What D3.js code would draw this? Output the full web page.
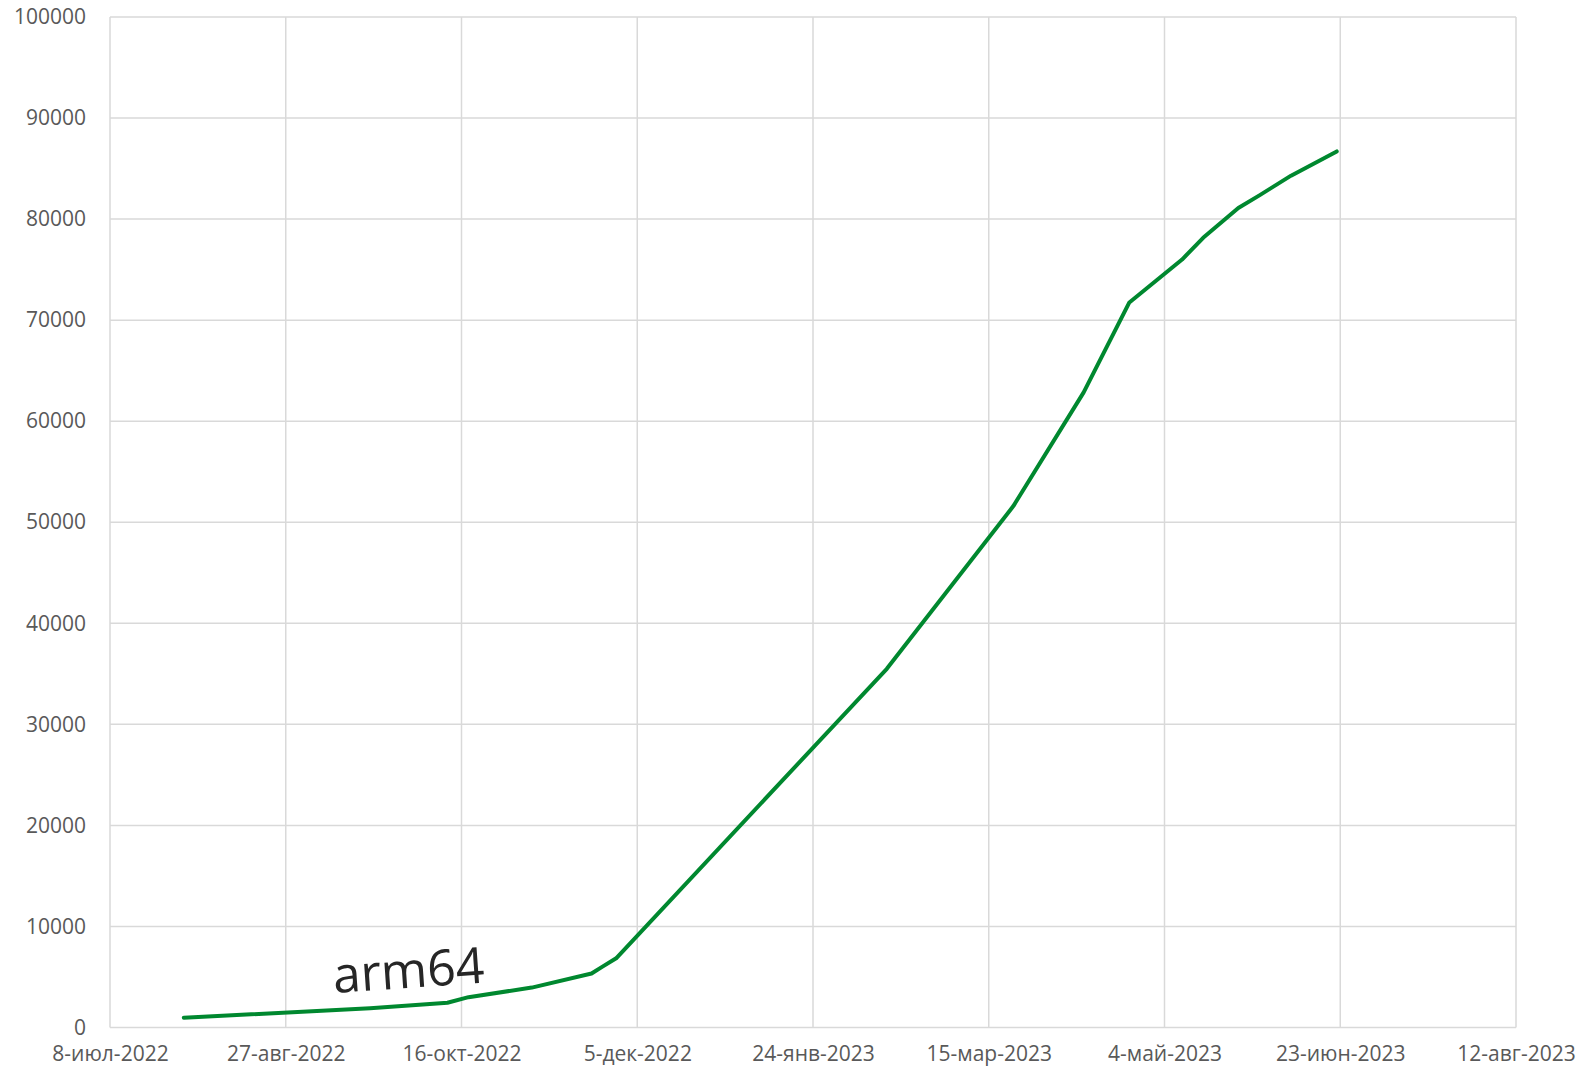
<!DOCTYPE html>
<html><head><meta charset="utf-8">
<script src="https://cdn.jsdelivr.net/npm/d3@7"></script>
<style>
html,body{margin:0;padding:0;background:#fff;}
svg text{font-family:"Open Sans",sans-serif;}
</style></head>
<body>
<svg id="chart" width="1579" height="1071"></svg>
<script>
const dates = ["2022-07-29","2022-09-20","2022-10-12","2022-10-18","2022-11-05","2022-11-22","2022-11-25","2022-11-29","2023-02-14","2023-03-22","2023-04-11","2023-04-24","2023-05-09","2023-05-15","2023-05-25","2023-05-31","2023-06-09","2023-06-22"];
const values = [970,1900,2450,3000,3950,5350,6000,6850,35500,51600,62850,71750,76000,78150,81100,82350,84300,86700];
const xTickDates = ["2022-07-08","2022-08-27","2022-10-16","2022-12-05","2023-01-24","2023-03-15","2023-05-04","2023-06-23","2023-08-12"];
const yTicks = [0,10000,20000,30000,40000,50000,60000,70000,80000,90000,100000];
const monthsRu = ["янв","фев","мар","апр","май","июн","июл","авг","сен","окт","ноя","дек"];
const seriesLabel = "arm64";

const parse = d3.utcParse("%Y-%m-%d");
const data = dates.map((d,i)=>({date:parse(d), value:values[i]}));
const ticks = xTickDates.map(parse);

const m = {left:110, right:1516, top:17, bottom:1027.5};
const svg = d3.select("#chart");
const x = d3.scaleUtc().domain([ticks[0], ticks[ticks.length-1]]).range([m.left, m.right]);
const y = d3.scaleLinear().domain([0,100000]).range([m.bottom, m.top]);

const fmt = d => `${d.getUTCDate()}-${monthsRu[d.getUTCMonth()]}-${d.getUTCFullYear()}`;

// gridlines
svg.append("g").selectAll("line").data(yTicks).join("line")
  .attr("x1", m.left).attr("x2", m.right)
  .attr("y1", d=>y(d)).attr("y2", d=>y(d))
  .attr("stroke", "#d9d9d9").attr("stroke-width", 1.5);
svg.append("g").selectAll("line").data(ticks).join("line")
  .attr("x1", d=>x(d)).attr("x2", d=>x(d))
  .attr("y1", m.top).attr("y2", m.bottom)
  .attr("stroke", "#d9d9d9").attr("stroke-width", 1.5);

// axes
const yAxis = d3.axisLeft(y).tickValues(yTicks).tickSize(0).tickPadding(24).tickFormat(d3.format("d"));
const gy = svg.append("g").attr("transform", `translate(${m.left},0)`).call(yAxis);
gy.select(".domain").remove();
gy.selectAll("text").attr("font-size", 21).attr("fill", "#595959").attr("font-family", "Open Sans");

const xAxis = d3.axisBottom(x).tickValues(ticks).tickSize(0).tickPadding(19).tickFormat(fmt);
const gx = svg.append("g").attr("transform", `translate(0,${m.bottom})`).call(xAxis);
gx.select(".domain").remove();
gx.selectAll("text").attr("font-size", 21).attr("fill", "#595959").attr("font-family", "Open Sans");

// line
const line = d3.line().x(d=>x(d.date)).y(d=>y(d.value));
svg.append("path").datum(data)
  .attr("d", line).attr("fill", "none")
  .attr("stroke", "#00882f").attr("stroke-width", 4)
  .attr("stroke-linejoin", "round").attr("stroke-linecap", "round");

// label
svg.append("text").text(seriesLabel)
  .attr("transform", "translate(334,993) rotate(-4)")
  .attr("font-size", 50).attr("fill", "#262626");
</script>
</body></html>
